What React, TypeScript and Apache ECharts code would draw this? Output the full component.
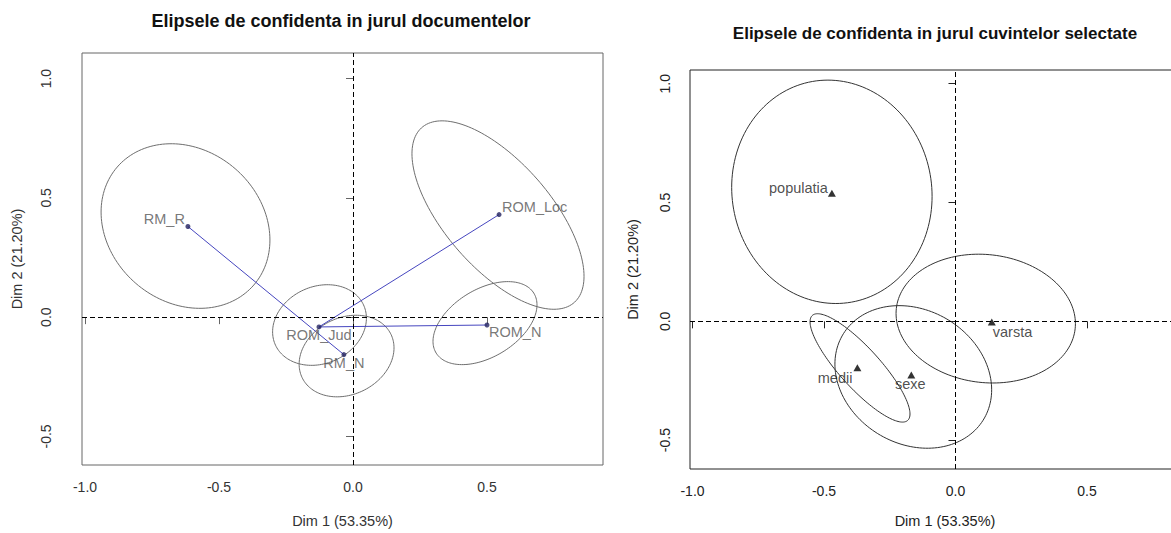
import React, { useEffect, useRef } from "react";
import * as echarts from "echarts";

// ---------- data ----------
const leftTitle = "Elipsele de confidenta in jurul documentelor";
const rightTitle = "Elipsele de confidenta in jurul cuvintelor selectate";
const xName = "Dim 1 (53.35%)";
const yName = "Dim 2 (21.20%)";

const xTicks = [-1, -0.5, 0, 0.5];
const yTicks = [-0.5, 0, 0.5, 1];

// documents (left panel)
const docNames = ["RM_R", "ROM_Loc", "ROM_Jud", "RM_N", "ROM_N"];
const docX = [-0.616, 0.545, -0.127, -0.034, 0.5];
const docY = [0.38, 0.43, -0.041, -0.157, -0.033];
const docLinks = [
  ["RM_R", "RM_N"],
  ["ROM_Jud", "ROM_Loc"],
  ["ROM_Jud", "ROM_N"],
];
// confidence ellipses: [centre x, centre y, half-width x, half-height y, correlation]
const docEllipses = [
  [-0.625, 0.382, 0.315, 0.345, -0.17],
  [0.541, 0.428, 0.321, 0.395, -0.65],
  [-0.125, -0.033, 0.175, 0.169, 0.17],
  [-0.024, -0.163, 0.177, 0.171, 0.2],
  [0.4925, -0.025, 0.194, 0.174, 0.44],
];

// words (right panel)
const wordNames = ["populatia", "varsta", "medii", "sexe"];
const wordX = [-0.47, 0.138, -0.373, -0.168];
const wordY = [0.539, -0.003, -0.195, -0.226];
const wordEllipses = [
  [-0.47, 0.545, 0.381, 0.47, -0.04],
  [0.115, 0.0115, 0.341, 0.271, -0.08],
  [-0.363, -0.196, 0.19, 0.228, -0.85],
  [-0.1605, -0.234, 0.298, 0.3, -0.18],
];

// ---------- presentation ----------
const FONT = "'Liberation Sans', Arial, sans-serif";

const labelPlace: Record<string, { align: string; offset: number[] }> = {
  RM_R: { align: "right", offset: [-3, -8] },
  ROM_Loc: { align: "left", offset: [3, -8] },
  ROM_Jud: { align: "center", offset: [0, 8] },
  RM_N: { align: "center", offset: [0, 8] },
  ROM_N: { align: "left", offset: [2, 7] },
  populatia: { align: "right", offset: [-4, -5] },
  varsta: { align: "left", offset: [1, 10] },
  medii: { align: "right", offset: [-5, 10] },
  sexe: { align: "center", offset: [-1, 9] },
};

function ellipseRenderer(color: string) {
  return (_params: any, api: any) => {
    const cx = api.value(0);
    const cy = api.value(1);
    const rx = api.value(2);
    const ry = api.value(3);
    const rho = api.value(4);
    const s = Math.sqrt(1 - rho * rho);
    const pts: number[][] = [];
    const n = 160;
    for (let i = 0; i <= n; i++) {
      const t = (i / n) * Math.PI * 2;
      const x = cx + rx * Math.cos(t);
      const y = cy + ry * (rho * Math.cos(t) + s * Math.sin(t));
      pts.push(api.coord([x, y]));
    }
    return {
      type: "polyline",
      shape: { points: pts },
      style: { fill: null, stroke: color, lineWidth: 1 },
    };
  };
}

function xAxisCfg(gridIndex: number, min: number, max: number, tickColor: string, textColor: string, labelMargin: number, nameGap: number) {
  return {
    type: "value",
    gridIndex,
    min,
    max,
    position: "bottom",
    axisLine: { show: false },
    axisTick: { show: true, inside: false, length: 7, lineStyle: { color: tickColor, width: 1 }, customValues: xTicks },
    axisLabel: {
      show: true,
      customValues: xTicks,
      formatter: (v: number) => v.toFixed(1),
      color: textColor,
      fontSize: 14,
      fontFamily: FONT,
      margin: labelMargin,
    },
    splitLine: { show: false },
    name: xName,
    nameLocation: "middle",
    nameGap,
    nameTextStyle: { color: textColor, fontSize: 14.5, fontFamily: FONT },
  };
}

function yAxisCfg(gridIndex: number, min: number, max: number, tickColor: string, textColor: string, labelMargin: number, nameGap: number) {
  return {
    type: "value",
    gridIndex,
    min,
    max,
    position: "left",
    axisLine: { show: false },
    axisTick: { show: true, inside: false, length: 7, lineStyle: { color: tickColor, width: 1 }, customValues: yTicks },
    axisLabel: {
      show: true,
      customValues: yTicks,
      rotate: 90,
      formatter: (v: number) => v.toFixed(1),
      color: textColor,
      fontSize: 14,
      fontFamily: FONT,
      margin: labelMargin,
    },
    splitLine: { show: false },
    name: yName,
    nameLocation: "middle",
    nameGap,
    nameRotate: 90,
    nameTextStyle: { color: textColor, fontSize: 14.5, fontFamily: FONT },
  };
}

const refLines = {
  silent: true,
  symbol: "none",
  label: { show: false },
  lineStyle: { color: "#000", type: [5, 3], width: 1 },
  data: [{ xAxis: 0 }, { yAxis: 0 }],
};

function pointData(names: string[], xs: number[], ys: number[], color: string) {
  return names.map((n, i) => {
    const p = labelPlace[n];
    return {
      name: n,
      value: [xs[i], ys[i]],
      label: {
        show: true,
        position: ["50%", "50%"],
        align: p.align,
        verticalAlign: "middle",
        offset: p.offset,
        formatter: "{b}",
        color,
        fontSize: 14.5,
        fontFamily: FONT,
      },
    };
  });
}

export default function App() {
  const ref = useRef<HTMLDivElement>(null);
  useEffect(() => {
    if (!ref.current) return;
    const chart = echarts.init(ref.current, null, { renderer: "svg" });
    const idx = (n: string) => docNames.indexOf(n);
    const option: any = {
      animation: false,
      backgroundColor: "#fff",
      title: [
        {
          text: leftTitle,
          left: 341,
          top: 12,
          textAlign: "center",
          padding: 0,
          textStyle: { fontSize: 18, fontWeight: "bold", color: "#111", fontFamily: FONT },
        },
        {
          text: rightTitle,
          left: 935,
          top: 25,
          textAlign: "center",
          padding: 0,
          textStyle: { fontSize: 17, fontWeight: "bold", color: "#111", fontFamily: FONT },
        },
      ],
      grid: [
        { left: 82, top: 53, width: 521, height: 418, show: true, borderColor: "#666", borderWidth: 1, backgroundColor: "transparent" },
        { left: 690, top: 70, width: 510, height: 408, show: true, borderColor: "#222", borderWidth: 1, backgroundColor: "transparent" },
      ],
      xAxis: [
        xAxisCfg(0, -1.0112, 0.9328, "#666", "#333", 15, 48),
        xAxisCfg(1, -1.0095, 0.9297, "#222", "#222", 15, 44),
      ],
      yAxis: [
        yAxisCfg(0, -0.6198, 1.1074, "#666", "#333", 29, 58),
        yAxisCfg(1, -0.6214, 1.0576, "#222", "#222", 18, 50),
      ],
      series: [
        {
          type: "custom",
          xAxisIndex: 0,
          yAxisIndex: 0,
          data: docEllipses,
          encode: { x: 0, y: 1 },
          renderItem: ellipseRenderer("#6e6e6e"),
          silent: true,
          z: 1,
        },
        {
          type: "custom",
          xAxisIndex: 1,
          yAxisIndex: 1,
          data: wordEllipses,
          encode: { x: 0, y: 1 },
          renderItem: ellipseRenderer("#333"),
          silent: true,
          z: 1,
        },
        {
          type: "lines",
          coordinateSystem: "cartesian2d",
          xAxisIndex: 0,
          yAxisIndex: 0,
          data: docLinks.map(([a, b]) => ({
            coords: [
              [docX[idx(a)], docY[idx(a)]],
              [docX[idx(b)], docY[idx(b)]],
            ],
          })),
          lineStyle: { color: "#4646bf", width: 1, opacity: 1 },
          silent: true,
          z: 3,
        },
        {
          type: "scatter",
          xAxisIndex: 0,
          yAxisIndex: 0,
          symbol: "circle",
          symbolSize: 5,
          itemStyle: { color: "#222260" },
          data: pointData(docNames, docX, docY, "#555"),
          markLine: refLines,
          z: 4,
        },
        {
          type: "scatter",
          xAxisIndex: 1,
          yAxisIndex: 1,
          symbol: "triangle",
          symbolSize: [8, 7],
          itemStyle: { color: "#000" },
          data: pointData(wordNames, wordX, wordY, "#222"),
          markLine: refLines,
          z: 4,
        },
      ],
    };
    chart.setOption(option);
    return () => chart.dispose();
  }, []);
  return (
    <div
      style={{ position: "absolute", left: 0, top: 0, width: 1171, height: 533, overflow: "hidden", background: "#fff" }}
    >
      <div ref={ref} style={{ width: 1240, height: 533 }} />
    </div>
  );
}
